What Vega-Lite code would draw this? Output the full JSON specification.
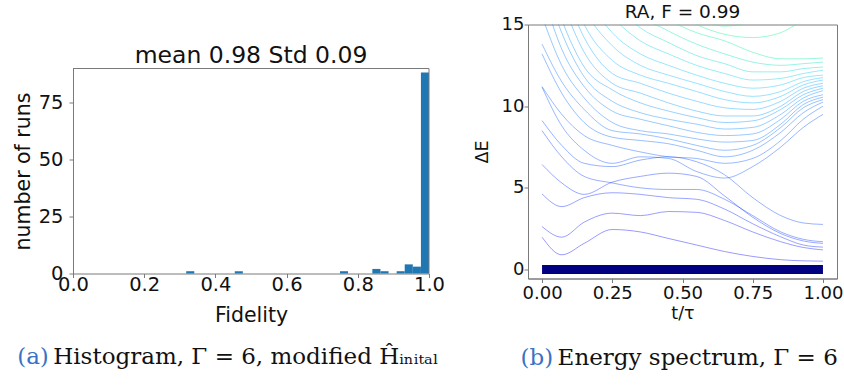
{
  "$schema": "https://vega.github.io/schema/vega-lite/v6.json",
  "padding": {"left": 13, "top": 2.5, "right": 0, "bottom": 0},
  "spacing": 27,
  "config": {
    "font": "DejaVu Sans",
    "view": {"stroke": "#7a7a7a", "strokeWidth": 1},
    "axis": {"grid": false, "domainColor": "#7a7a7a", "tickColor": "#7a7a7a", "labelColor": "#111", "titleColor": "#111", "labelFont": "DejaVu Sans", "titleFont": "DejaVu Sans", "titleFontWeight": "normal", "labelFlush": false, "labelOverlap": false},
    "title": {"font": "DejaVu Sans", "fontWeight": "normal", "color": "#111"}
  },
  "hconcat": [
    {
      "title": {"text": "(a)", "orient": "bottom", "anchor": "start", "frame": "bounds", "color": "#3a72c4", "font": "DejaVu Serif", "fontSize": 23, "offset": -23, "dx": 4},
      "vconcat": [
        {
          "title": {"text": "Histogram, Γ = 6, modified Ĥᵢₙᵢₜₐₗ", "orient": "bottom", "anchor": "start", "frame": "bounds", "color": "#111", "font": "DejaVu Serif", "fontSize": 23, "offset": 20, "dx": 40},
          "vconcat": [
            {
              "width": 356,
              "height": 249,
              "view": {"stroke": null},
              "title": {"text": "mean 0.98 Std 0.09", "fontSize": 23.5, "offset": -43, "anchor": "middle"},
              "layer": [
                {
                  "data": {"values": [
                    {"bin_start": 0.3180, "bin_end": 0.3407, "count": 1},
                    {"bin_start": 0.4544, "bin_end": 0.4771, "count": 1},
                    {"bin_start": 0.7499, "bin_end": 0.7726, "count": 1},
                    {"bin_start": 0.8409, "bin_end": 0.8636, "count": 2},
                    {"bin_start": 0.8636, "bin_end": 0.8864, "count": 1},
                    {"bin_start": 0.9091, "bin_end": 0.9318, "count": 1},
                    {"bin_start": 0.9318, "bin_end": 0.9545, "count": 4},
                    {"bin_start": 0.9545, "bin_end": 0.9773, "count": 3},
                    {"bin_start": 0.9773, "bin_end": 1.0, "count": 88}
                  ]},
                  "mark": {"type": "rect", "color": "#1f77b4"},
                  "encoding": {
                    "x": {"field": "bin_start", "type": "quantitative", "scale": {"domain": [0, 1], "nice": false}, "axis": {"values": [0, 0.2, 0.4, 0.6, 0.8, 1.0], "format": ".1f", "title": "Fidelity", "labelFontSize": 19.5, "titleFontSize": 20.5, "tickSize": 4, "labelPadding": -2, "titlePadding": 11}},
                    "x2": {"field": "bin_end"},
                    "y": {"field": "count", "type": "quantitative", "scale": {"domain": [0, 89.8], "nice": false, "range": [249, 44]}, "axis": {"values": [0, 25, 50, 75], "title": "number of runs", "labelFontSize": 19.5, "titleFontSize": 20.5, "tickSize": 4, "labelPadding": 6, "titlePadding": 5}},
                    "y2": {"datum": 0}
                  }
                },
                {
                  "data": {"values": [{}]},
                  "mark": {"type": "rule", "color": "#7a7a7a", "strokeWidth": 1},
                  "encoding": {"y": {"datum": 89.8, "type": "quantitative"}}
                },
                {
                  "data": {"values": [{}]},
                  "mark": {"type": "rule", "color": "#7a7a7a", "strokeWidth": 1},
                  "encoding": {"x": {"datum": 1, "type": "quantitative"}, "y": {"datum": 0, "type": "quantitative"}, "y2": {"datum": 89.8}}
                }
              ]
            }
          ]
        }
      ]
    },
    {
      "title": {"text": "(b)", "orient": "bottom", "anchor": "start", "frame": "bounds", "color": "#3a72c4", "font": "DejaVu Serif", "fontSize": 23, "offset": -23, "dx": 48},
      "vconcat": [
        {
          "title": {"text": "Energy spectrum, Γ = 6", "orient": "bottom", "anchor": "start", "frame": "bounds", "color": "#111", "font": "DejaVu Serif", "fontSize": 23, "offset": 24, "dx": 85},
          "vconcat": [
            {
              "width": 309,
              "height": 254,
              "title": {"text": "RA, F = 0.99", "fontSize": 18.5, "offset": -6, "anchor": "middle"},
              "layer": [
                {
                  "data": {"values": [
                    {"lv":1,"t":0,"E":1.98},{"lv":1,"t":0.07,"E":0.9},{"lv":1,"t":0.15,"E":1.6},{"lv":1,"t":0.25,"E":2.45},{"lv":1,"t":0.35,"E":2.3},{"lv":1,"t":0.45,"E":1.9},{"lv":1,"t":0.55,"E":1.5},{"lv":1,"t":0.65,"E":1.1},{"lv":1,"t":0.75,"E":0.8},{"lv":1,"t":0.85,"E":0.6},{"lv":1,"t":0.93,"E":0.53},{"lv":1,"t":1,"E":0.51},
                    {"lv":2,"t":0,"E":2.63},{"lv":2,"t":0.07,"E":1.98},{"lv":2,"t":0.15,"E":2.9},{"lv":2,"t":0.25,"E":3.45},{"lv":2,"t":0.35,"E":3.3},{"lv":2,"t":0.45,"E":3.55},{"lv":2,"t":0.55,"E":3.5},{"lv":2,"t":0.65,"E":3.0},{"lv":2,"t":0.75,"E":2.3},{"lv":2,"t":0.85,"E":1.7},{"lv":2,"t":0.93,"E":1.35},{"lv":2,"t":1,"E":1.2},
                    {"lv":3,"t":0,"E":4.63},{"lv":3,"t":0.07,"E":3.85},{"lv":3,"t":0.15,"E":4.4},{"lv":3,"t":0.25,"E":4.7},{"lv":3,"t":0.35,"E":4.6},{"lv":3,"t":0.45,"E":4.4},{"lv":3,"t":0.55,"E":4.3},{"lv":3,"t":0.65,"E":3.7},{"lv":3,"t":0.75,"E":2.8},{"lv":3,"t":0.85,"E":2.0},{"lv":3,"t":0.93,"E":1.5},{"lv":3,"t":1,"E":1.37},
                    {"lv":4,"t":0,"E":6.43},{"lv":4,"t":0.07,"E":5.3},{"lv":4,"t":0.15,"E":4.6},{"lv":4,"t":0.25,"E":5.35},{"lv":4,"t":0.35,"E":5.7},{"lv":4,"t":0.45,"E":5.9},{"lv":4,"t":0.55,"E":5.7},{"lv":4,"t":0.65,"E":4.5},{"lv":4,"t":0.75,"E":3.2},{"lv":4,"t":0.85,"E":2.2},{"lv":4,"t":0.93,"E":1.75},{"lv":4,"t":1,"E":1.6},
                    {"lv":5,"t":0,"E":8.5},{"lv":5,"t":0.07,"E":6.9},{"lv":5,"t":0.15,"E":5.7},{"lv":5,"t":0.25,"E":5.3},{"lv":5,"t":0.35,"E":5.0},{"lv":5,"t":0.45,"E":4.9},{"lv":5,"t":0.55,"E":4.9},{"lv":5,"t":0.65,"E":4.3},{"lv":5,"t":0.75,"E":3.3},{"lv":5,"t":0.85,"E":2.3},{"lv":5,"t":0.93,"E":1.85},{"lv":5,"t":1,"E":1.7},
                    {"lv":6,"t":0,"E":9.12},{"lv":6,"t":0.07,"E":7.6},{"lv":6,"t":0.15,"E":6.5},{"lv":6,"t":0.25,"E":6.3},{"lv":6,"t":0.35,"E":6.7},{"lv":6,"t":0.45,"E":6.9},{"lv":6,"t":0.55,"E":6.6},{"lv":6,"t":0.65,"E":5.8},{"lv":6,"t":0.75,"E":4.4},{"lv":6,"t":0.85,"E":3.3},{"lv":6,"t":0.93,"E":2.85},{"lv":6,"t":1,"E":2.76},
                    {"lv":7,"t":0,"E":11.16},{"lv":7,"t":0.07,"E":8.8},{"lv":7,"t":0.15,"E":7.3},{"lv":7,"t":0.25,"E":6.5},{"lv":7,"t":0.35,"E":6.9},{"lv":7,"t":0.45,"E":6.8},{"lv":7,"t":0.55,"E":6.0},{"lv":7,"t":0.65,"E":5.6},{"lv":7,"t":0.75,"E":6.3},{"lv":7,"t":0.85,"E":7.5},{"lv":7,"t":0.93,"E":8.7},{"lv":7,"t":1,"E":9.5},
                    {"lv":8,"t":0,"E":11.2},{"lv":8,"t":0.07,"E":9.5},{"lv":8,"t":0.15,"E":8.2},{"lv":8,"t":0.25,"E":7.6},{"lv":8,"t":0.35,"E":7.2},{"lv":8,"t":0.45,"E":6.9},{"lv":8,"t":0.55,"E":6.8},{"lv":8,"t":0.65,"E":6.5},{"lv":8,"t":0.75,"E":6.8},{"lv":8,"t":0.85,"E":7.9},{"lv":8,"t":0.93,"E":9.2},{"lv":8,"t":1,"E":10.0},
                    {"lv":9,"t":0,"E":13.2},{"lv":9,"t":0.07,"E":10.8},{"lv":9,"t":0.15,"E":9.0},{"lv":9,"t":0.25,"E":8.1},{"lv":9,"t":0.35,"E":7.9},{"lv":9,"t":0.45,"E":7.7},{"lv":9,"t":0.55,"E":7.3},{"lv":9,"t":0.65,"E":6.9},{"lv":9,"t":0.75,"E":7.3},{"lv":9,"t":0.85,"E":8.4},{"lv":9,"t":0.93,"E":9.6},{"lv":9,"t":1,"E":10.25},
                    {"lv":10,"t":0,"E":13.8},{"lv":10,"t":0.07,"E":11.5},{"lv":10,"t":0.15,"E":9.8},{"lv":10,"t":0.25,"E":8.5},{"lv":10,"t":0.35,"E":8.3},{"lv":10,"t":0.45,"E":8.0},{"lv":10,"t":0.55,"E":7.6},{"lv":10,"t":0.65,"E":7.3},{"lv":10,"t":0.75,"E":7.6},{"lv":10,"t":0.85,"E":8.7},{"lv":10,"t":0.93,"E":9.9},{"lv":10,"t":1,"E":10.4},
                    {"lv":11,"t":0,"E":15.5},{"lv":11,"t":0.07,"E":12.5},{"lv":11,"t":0.15,"E":10.5},{"lv":11,"t":0.25,"E":9.0},{"lv":11,"t":0.35,"E":8.5},{"lv":11,"t":0.45,"E":8.3},{"lv":11,"t":0.55,"E":8.0},{"lv":11,"t":0.65,"E":7.8},{"lv":11,"t":0.75,"E":7.9},{"lv":11,"t":0.85,"E":8.9},{"lv":11,"t":0.93,"E":10.1},{"lv":11,"t":1,"E":10.55},
                    {"lv":12,"t":0,"E":17},{"lv":12,"t":0.07,"E":13.5},{"lv":12,"t":0.15,"E":11.2},{"lv":12,"t":0.25,"E":9.7},{"lv":12,"t":0.35,"E":9.2},{"lv":12,"t":0.45,"E":8.8},{"lv":12,"t":0.55,"E":8.4},{"lv":12,"t":0.65,"E":8.2},{"lv":12,"t":0.75,"E":8.3},{"lv":12,"t":0.85,"E":9.2},{"lv":12,"t":0.93,"E":10.3},{"lv":12,"t":1,"E":10.7},
                    {"lv":13,"t":0,"E":18},{"lv":13,"t":0.07,"E":14.5},{"lv":13,"t":0.15,"E":11.8},{"lv":13,"t":0.25,"E":10.3},{"lv":13,"t":0.35,"E":9.6},{"lv":13,"t":0.45,"E":9.2},{"lv":13,"t":0.55,"E":8.9},{"lv":13,"t":0.65,"E":8.6},{"lv":13,"t":0.75,"E":8.7},{"lv":13,"t":0.85,"E":9.5},{"lv":13,"t":0.93,"E":10.5},{"lv":13,"t":1,"E":10.95},
                    {"lv":14,"t":0,"E":19},{"lv":14,"t":0.07,"E":15.3},{"lv":14,"t":0.15,"E":12.4},{"lv":14,"t":0.25,"E":11.0},{"lv":14,"t":0.35,"E":10.2},{"lv":14,"t":0.45,"E":9.7},{"lv":14,"t":0.55,"E":9.3},{"lv":14,"t":0.65,"E":9.0},{"lv":14,"t":0.75,"E":9.1},{"lv":14,"t":0.85,"E":9.8},{"lv":14,"t":0.93,"E":10.7},{"lv":14,"t":1,"E":11.1},
                    {"lv":15,"t":0,"E":20},{"lv":15,"t":0.07,"E":16.5},{"lv":15,"t":0.15,"E":13.3},{"lv":15,"t":0.25,"E":11.4},{"lv":15,"t":0.35,"E":10.8},{"lv":15,"t":0.45,"E":10.2},{"lv":15,"t":0.55,"E":9.7},{"lv":15,"t":0.65,"E":9.4},{"lv":15,"t":0.75,"E":9.4},{"lv":15,"t":0.85,"E":10.0},{"lv":15,"t":0.93,"E":10.9},{"lv":15,"t":1,"E":11.25},
                    {"lv":16,"t":0,"E":21},{"lv":16,"t":0.07,"E":17.5},{"lv":16,"t":0.15,"E":14.2},{"lv":16,"t":0.25,"E":12.0},{"lv":16,"t":0.35,"E":11.4},{"lv":16,"t":0.45,"E":10.8},{"lv":16,"t":0.55,"E":10.3},{"lv":16,"t":0.65,"E":9.9},{"lv":16,"t":0.75,"E":9.8},{"lv":16,"t":0.85,"E":10.3},{"lv":16,"t":0.93,"E":11.1},{"lv":16,"t":1,"E":11.4},
                    {"lv":17,"t":0,"E":22},{"lv":17,"t":0.07,"E":18.5},{"lv":17,"t":0.15,"E":15.0},{"lv":17,"t":0.25,"E":12.8},{"lv":17,"t":0.35,"E":11.9},{"lv":17,"t":0.45,"E":11.4},{"lv":17,"t":0.55,"E":10.9},{"lv":17,"t":0.65,"E":10.4},{"lv":17,"t":0.75,"E":10.2},{"lv":17,"t":0.85,"E":10.6},{"lv":17,"t":0.93,"E":11.3},{"lv":17,"t":1,"E":11.6},
                    {"lv":18,"t":0,"E":23},{"lv":18,"t":0.07,"E":19.5},{"lv":18,"t":0.15,"E":16},{"lv":18,"t":0.25,"E":13.7},{"lv":18,"t":0.35,"E":12.5},{"lv":18,"t":0.45,"E":11.9},{"lv":18,"t":0.55,"E":11.4},{"lv":18,"t":0.65,"E":10.9},{"lv":18,"t":0.75,"E":10.6},{"lv":18,"t":0.85,"E":10.9},{"lv":18,"t":0.93,"E":11.5},{"lv":18,"t":1,"E":11.75},
                    {"lv":19,"t":0,"E":24},{"lv":19,"t":0.07,"E":20.5},{"lv":19,"t":0.15,"E":17},{"lv":19,"t":0.25,"E":14.5},{"lv":19,"t":0.35,"E":13.2},{"lv":19,"t":0.45,"E":12.5},{"lv":19,"t":0.55,"E":11.9},{"lv":19,"t":0.65,"E":11.4},{"lv":19,"t":0.75,"E":11.1},{"lv":19,"t":0.85,"E":11.3},{"lv":19,"t":0.93,"E":11.75},{"lv":19,"t":1,"E":11.9},
                    {"lv":20,"t":0,"E":25},{"lv":20,"t":0.07,"E":21.5},{"lv":20,"t":0.15,"E":18},{"lv":20,"t":0.25,"E":15.5},{"lv":20,"t":0.35,"E":14.0},{"lv":20,"t":0.45,"E":13.2},{"lv":20,"t":0.55,"E":12.5},{"lv":20,"t":0.65,"E":12.0},{"lv":20,"t":0.75,"E":11.6},{"lv":20,"t":0.85,"E":11.7},{"lv":20,"t":0.93,"E":12.0},{"lv":20,"t":1,"E":12.2},
                    {"lv":21,"t":0,"E":26},{"lv":21,"t":0.07,"E":22.5},{"lv":21,"t":0.15,"E":19},{"lv":21,"t":0.25,"E":16.5},{"lv":21,"t":0.35,"E":14.8},{"lv":21,"t":0.45,"E":13.9},{"lv":21,"t":0.55,"E":13.1},{"lv":21,"t":0.65,"E":12.6},{"lv":21,"t":0.75,"E":12.1},{"lv":21,"t":0.85,"E":12.1},{"lv":21,"t":0.93,"E":12.3},{"lv":21,"t":1,"E":12.4},
                    {"lv":22,"t":0,"E":27},{"lv":22,"t":0.07,"E":23.5},{"lv":22,"t":0.15,"E":20},{"lv":22,"t":0.25,"E":17.5},{"lv":22,"t":0.35,"E":15.6},{"lv":22,"t":0.45,"E":14.6},{"lv":22,"t":0.55,"E":13.8},{"lv":22,"t":0.65,"E":13.2},{"lv":22,"t":0.75,"E":12.7},{"lv":22,"t":0.85,"E":12.5},{"lv":22,"t":0.93,"E":12.6},{"lv":22,"t":1,"E":12.7},
                    {"lv":23,"t":0,"E":28},{"lv":23,"t":0.07,"E":24.5},{"lv":23,"t":0.15,"E":21},{"lv":23,"t":0.25,"E":18.5},{"lv":23,"t":0.35,"E":16.5},{"lv":23,"t":0.45,"E":15.3},{"lv":23,"t":0.55,"E":14.5},{"lv":23,"t":0.65,"E":14.0},{"lv":23,"t":0.75,"E":13.3},{"lv":23,"t":0.85,"E":12.9},{"lv":23,"t":0.93,"E":12.9},{"lv":23,"t":1,"E":12.95},
                    {"lv":24,"t":0,"E":29},{"lv":24,"t":0.07,"E":25.5},{"lv":24,"t":0.15,"E":22},{"lv":24,"t":0.25,"E":19.5},{"lv":24,"t":0.35,"E":17.3},{"lv":24,"t":0.45,"E":16.0},{"lv":24,"t":0.55,"E":15.0},{"lv":24,"t":0.65,"E":14.4},{"lv":24,"t":0.75,"E":14.2},{"lv":24,"t":0.85,"E":14.5},{"lv":24,"t":0.93,"E":15.3},{"lv":24,"t":1,"E":16},
                    {"lv":25,"t":0,"E":30},{"lv":25,"t":0.07,"E":26.5},{"lv":25,"t":0.15,"E":23},{"lv":25,"t":0.25,"E":20.5},{"lv":25,"t":0.35,"E":18},{"lv":25,"t":0.45,"E":16.6},{"lv":25,"t":0.55,"E":15.5},{"lv":25,"t":0.65,"E":14.9},{"lv":25,"t":0.75,"E":15.2},{"lv":25,"t":0.85,"E":16},{"lv":25,"t":0.93,"E":17},{"lv":25,"t":1,"E":18}
                  ]},
                  "mark": {"type": "line", "interpolate": "monotone", "strokeWidth": 1, "opacity": 0.4, "clip": true},
                  "encoding": {
                    "x": {"field": "t", "type": "quantitative", "scale": {"domain": [-0.05, 1.05], "nice": false}, "axis": {"values": [0, 0.25, 0.5, 0.75, 1.0], "format": ".2f", "title": "t/τ", "labelFontSize": 18, "titleFontSize": 17.5, "tickSize": 4, "labelPadding": 2, "titlePadding": 2}},
                    "y": {"field": "E", "type": "quantitative", "scale": {"domain": [-0.55, 15], "nice": false, "zero": false}, "axis": {"values": [0, 5, 10, 15], "title": "ΔE", "labelFontSize": 18, "titleFontSize": 17.5, "tickSize": 4, "labelPadding": 0, "titlePadding": 10}},
                    "color": {"field": "lv", "type": "quantitative", "scale": {"type": "pow", "exponent": 1.8, "domain": [1, 25], "range": ["#0000ff", "#00ff80"]}, "legend": null},
                    "detail": {"field": "lv", "type": "nominal"}
                  }
                },
                {
                  "data": {"values": [{"t": 0, "E": 0}, {"t": 1, "E": 0}]},
                  "mark": {"type": "line", "color": "#000080", "strokeWidth": 9, "strokeCap": "butt"},
                  "encoding": {
                    "x": {"field": "t", "type": "quantitative"},
                    "y": {"field": "E", "type": "quantitative"}
                  }
                }
              ]
            }
          ]
        }
      ]
    }
  ]
}
